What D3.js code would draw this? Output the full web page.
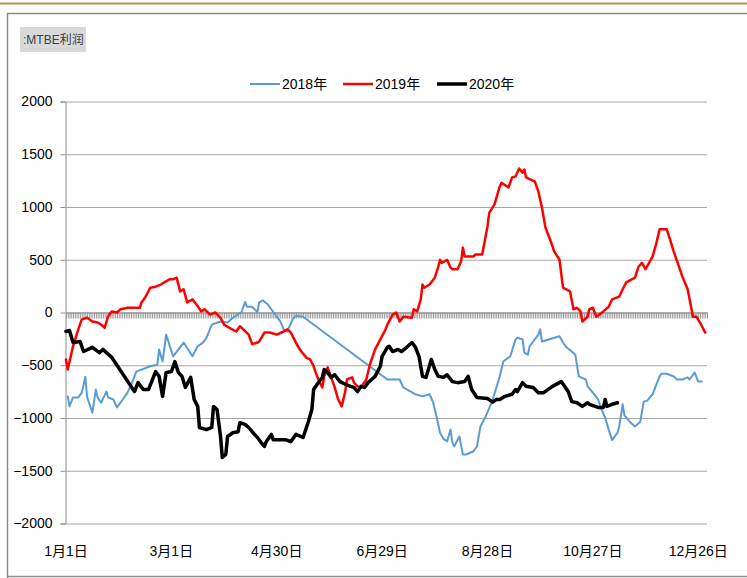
<!DOCTYPE html>
<html>
<head>
<meta charset="utf-8">
<script src="https://cdn.jsdelivr.net/npm/d3@7"></script>
<style>
  body { margin: 0; background: #fff; }
  text { font-family: "Liberation Sans", Arial, "Noto Sans CJK SC", sans-serif; }
</style>
</head>
<body>
<div id="chart"></div>
<script>
// MTBE profit, three years on a common Jan-Dec day axis
const seriesNames = ['2018年', '2019年', '2020年']
const seriesColors = ['#5B9BD5', '#FF0000', '#000000']
const seriesWidths = [2, 2.5, 3.5]
const yTicks = [-2000, -1500, -1000, -500, 0, 500, 1000, 1500, 2000]
const xTickDays = [0, 60, 120, 180, 240, 300, 360]
const xTickLabels = ['1月1日', '3月1日', '4月30日', '6月29日', '8月28日', '10月27日', '12月26日']

// [day of year, value]
const values2018 = [
  [1,-795],[2,-890],[4,-805],[7,-805],[9,-760],[11,-610],[12,-800],[15,-950],[17,-730],[18,-805],
  [20,-855],[23,-750],[24,-805],[27,-825],[29,-900],[31,-855],[35,-760],[38,-650],[40,-560],[48,-510],
  [52,-495],[53,-350],[55,-465],[57,-210],[61,-415],[67,-285],[72,-415],[75,-320],[78,-285],[80,-240],
  [83,-115],[88,-85],[92,-95],[95,-50],[100,5],[102,100],[103,55],[106,55],[109,5],[110,95],
  [112,115],[115,75],[118,5],[122,-85],[124,-160],[126,-180],[129,-65],[131,-30],[135,-40],[183,-635],
  [190,-635],[192,-710],[199,-775],[203,-795],[207,-775],[209,-850],[211,-985],[213,-1140],[215,-1200],[217,-1220],
  [219,-1110],[220,-1230],[221,-1270],[224,-1175],[226,-1345],[228,-1345],[232,-1315],[234,-1270],[236,-1080],[239,-985],
  [243,-825],[247,-605],[249,-465],[253,-415],[256,-255],[257,-240],[260,-255],[261,-380],[263,-400],[264,-320],
  [269,-210],[270,-160],[271,-275],[281,-225],[283,-285],[285,-330],[288,-370],[290,-400],[292,-605],[296,-635],
  [297,-700],[300,-760],[303,-825],[305,-920],[307,-995],[309,-1110],[311,-1210],[314,-1140],[315,-1080],[317,-870],
  [318,-975],[321,-1035],[324,-1080],[327,-1035],[329,-845],[331,-835],[334,-775],[338,-605],[339,-580],[342,-580],
  [346,-605],[348,-635],[351,-635],[354,-615],[355,-635],[358,-570],[360,-655],[362,-655]
]
const values2019 = [
  [0,-445],[1,-540],[4,-320],[7,-160],[9,-65],[12,-50],[15,-85],[18,-95],[20,-115],[22,-145],
  [24,-35],[26,10],[29,0],[31,30],[35,45],[42,45],[43,95],[45,140],[48,235],[51,245],
  [54,265],[57,295],[59,315],[61,315],[63,330],[65,200],[67,220],[69,95],[72,125],[75,60],
  [77,10],[79,30],[82,-20],[85,0],[88,-50],[90,-115],[93,-145],[97,-180],[99,-130],[101,-160],
  [104,-210],[106,-300],[109,-285],[110,-275],[113,-190],[116,-190],[120,-210],[124,-180],[126,-160],[128,-190],
  [130,-255],[132,-320],[134,-370],[137,-430],[139,-445],[141,-510],[143,-605],[145,-680],[146,-710],[147,-605],
  [149,-520],[151,-615],[153,-710],[155,-825],[157,-890],[159,-750],[160,-635],[163,-615],[164,-665],[166,-700],
  [168,-710],[171,-635],[173,-495],[176,-350],[179,-255],[182,-160],[183,-115],[186,-20],[188,0],[190,-85],
  [192,-40],[197,-50],[198,30],[200,10],[202,125],[203,265],[204,235],[207,265],[210,330],[212,435],
  [213,500],[214,470],[217,500],[219,425],[220,410],[223,410],[225,485],[226,615],[227,530],[232,530],
  [233,550],[237,550],[240,815],[241,945],[244,1025],[247,1195],[248,1230],[252,1185],[254,1280],[256,1290],
  [258,1365],[260,1325],[261,1355],[262,1280],[267,1240],[269,1145],[271,995],[273,805],[276,675],[278,580],
  [281,500],[283,235],[287,200],[289,30],[291,45],[293,10],[294,-85],[297,-40],[298,30],[300,45],
  [302,-40],[306,10],[309,55],[311,125],[315,150],[317,220],[319,285],[324,330],[326,435],[328,470],
  [330,410],[334,530],[336,645],[338,790],[342,790],[344,690],[346,580],[348,485],[351,340],[354,220],
  [357,-40],[359,-40],[361,-95],[364,-190]
]
const values2020 = [
  [0,-180],[2,-170],[4,-285],[8,-275],[10,-370],[15,-330],[19,-380],[21,-350],[26,-425],[39,-750],
  [41,-665],[44,-730],[47,-730],[51,-560],[53,-605],[55,-795],[57,-570],[60,-560],[62,-465],[64,-570],
  [66,-605],[68,-710],[71,-615],[73,-825],[75,-890],[76,-1090],[80,-1110],[83,-1090],[84,-890],[86,-920],
  [88,-1175],[89,-1375],[91,-1345],[92,-1175],[95,-1140],[98,-1130],[99,-1045],[102,-1060],[104,-1090],[106,-1130],
  [109,-1185],[111,-1230],[113,-1270],[114,-1225],[117,-1155],[118,-1205],[122,-1205],[125,-1205],[128,-1225],[131,-1155],
  [135,-1185],[138,-1035],[140,-920],[141,-730],[143,-680],[146,-615],[147,-540],[149,-570],[151,-615],[153,-590],
  [156,-655],[159,-680],[162,-700],[164,-710],[166,-750],[168,-700],[170,-710],[172,-665],[174,-635],[176,-605],
  [179,-510],[180,-415],[183,-330],[184,-320],[186,-370],[189,-350],[191,-370],[194,-330],[197,-285],[199,-330],
  [201,-415],[203,-605],[205,-615],[208,-445],[210,-540],[212,-605],[215,-615],[217,-590],[220,-655],[223,-665],
  [227,-655],[229,-605],[231,-730],[234,-805],[240,-815],[243,-850],[245,-825],[247,-825],[250,-795],[254,-775],
  [256,-730],[257,-750],[260,-665],[262,-700],[266,-710],[269,-760],[272,-760],[277,-700],[282,-655],[286,-750],
  [288,-845],[291,-855],[294,-890],[297,-855],[298,-870],[303,-900],[306,-900],[307,-825],[308,-890],[311,-870],
  [314,-855]
]
const allSeries = [values2018, values2019, values2020]

const width = 747, height = 578
const svg = d3.select('#chart').append('svg')
  .attr('width', width)
  .attr('height', height)

// page decoration: gold rule and chart frame
svg.append('line')
  .attr('x1', 0).attr('x2', width).attr('y1', 3.5).attr('y2', 3.5)
  .attr('stroke', '#A8925A').attr('stroke-width', 2)
svg.append('path')
  .attr('d', `M7.5,${height} V13.5 H${width}`)
  .attr('fill', 'none').attr('stroke', '#8C8C8C').attr('stroke-width', 1.5)
svg.append('line')
  .attr('x1', 7).attr('x2', width).attr('y1', 576.5).attr('y2', 576.5)
  .attr('stroke', '#8C8C8C').attr('stroke-width', 1.5)

// title tag
svg.append('rect')
  .attr('x', 20).attr('y', 27).attr('width', 66).attr('height', 25)
  .attr('fill', '#D9D9D9')
svg.append('text')
  .attr('x', 23).attr('y', 44)
  .style('font-size', '12px').style('fill', '#404040')
  .text(':MTBE利润')

const x = d3.scaleLinear().domain([0, 365]).range([66, 707])
const y = d3.scaleLinear().domain([-2000, 2000]).range([523.5, 101.5])

// horizontal gridlines
svg.append('g')
  .attr('transform', 'translate(66,0)')
  .call(d3.axisLeft(y).tickValues(yTicks).tickSize(-(707 - 66)).tickFormat(''))
  .call(g => g.select('.domain').remove())
  .call(g => g.selectAll('line').attr('stroke', '#A6A6A6'))

// y axis with labels
svg.append('g')
  .attr('transform', 'translate(65.5,0)')
  .call(d3.axisLeft(y).tickValues(yTicks).tickSize(5).tickPadding(8).tickFormat(d3.format('d')))
  .call(g => g.select('.domain').attr('stroke', '#8C8C8C'))
  .call(g => g.selectAll('line').attr('stroke', '#8C8C8C'))
  .call(g => g.selectAll('text').style('font-size', '14px').style('fill', '#000')
    .style('font-family', '"Liberation Sans", Arial, sans-serif'))

// zero axis with a tick for every day
svg.append('g')
  .attr('transform', `translate(0,${y(0)})`)
  .call(d3.axisBottom(x).tickValues(d3.range(0, 366)).tickSize(6).tickSizeOuter(0).tickFormat(''))
  .call(g => g.select('.domain').attr('stroke', '#8C8C8C'))
  .call(g => g.selectAll('.tick line').attr('stroke', '#9A9A9A'))

// category labels along the bottom
svg.append('g')
  .selectAll('text')
  .data(xTickDays)
  .enter()
  .append('text')
  .attr('x', d => x(d))
  .attr('y', 556)
  .attr('text-anchor', 'middle')
  .style('font-size', '14px')
  .style('fill', '#000')
  .text((d, i) => xTickLabels[i])

// series lines
const line = d3.line()
  .x(d => x(d[0]))
  .y(d => y(d[1]))

svg.selectAll('path.series')
  .data(allSeries)
  .enter()
  .append('path')
  .attr('class', 'series')
  .attr('d', line)
  .attr('fill', 'none')
  .attr('stroke', (d, i) => seriesColors[i])
  .attr('stroke-width', (d, i) => seriesWidths[i])
  .attr('stroke-linejoin', 'round')
  .attr('stroke-linecap', 'round')

// legend
const legendX = [250, 343, 437]
const legend = svg.append('g')
  .selectAll('g')
  .data(seriesNames)
  .enter()
  .append('g')
  .attr('transform', (d, i) => `translate(${legendX[i]},84)`)

legend.append('line')
  .attr('x1', 0).attr('x2', 30)
  .attr('stroke', (d, i) => seriesColors[i])
  .attr('stroke-width', (d, i) => seriesWidths[i])

legend.append('text')
  .attr('x', 32)
  .attr('y', 5)
  .style('font-size', '14px')
  .style('fill', '#000')
  .text(d => d)
</script>
</body>
</html>
